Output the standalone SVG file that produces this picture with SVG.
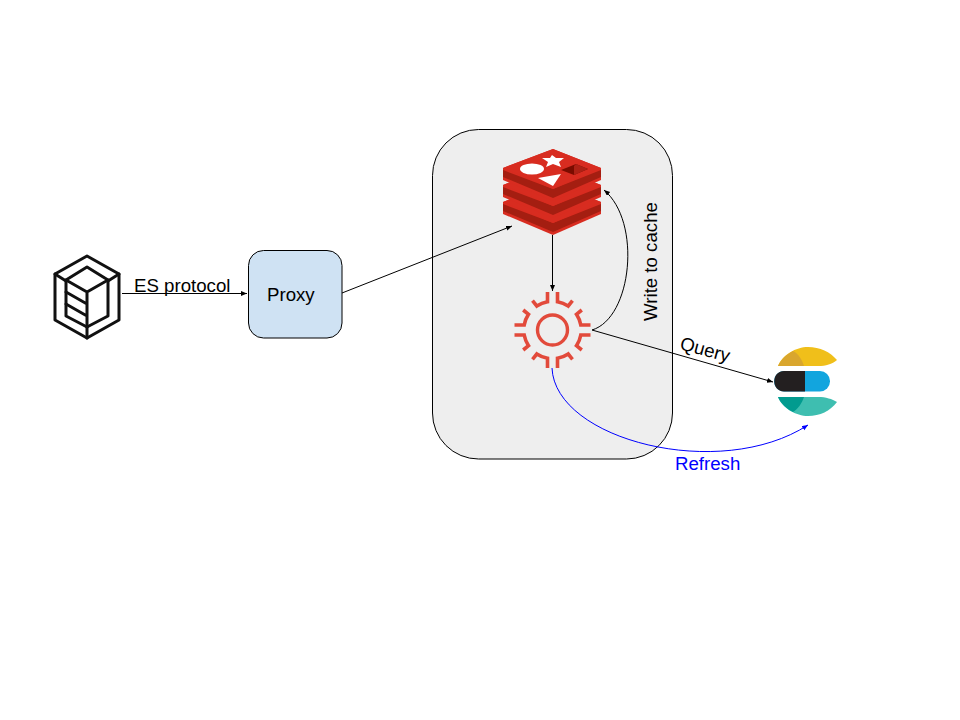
<svg xmlns="http://www.w3.org/2000/svg" width="960" height="720" viewBox="0 0 960 720">
<style>
text{font-family:"Liberation Sans",Arial,sans-serif;font-size:18.67px;fill:#000}
.c{fill:none;stroke:#000;stroke-width:1}
.i{fill:none;stroke:#111;stroke-width:3;stroke-linejoin:round;stroke-linecap:round}
.g{fill:none;stroke:#e24a3b;stroke-width:3.6}
.b{fill:#d82c20}
.d{fill:#a41e11}
</style>
<defs>
<marker id="a" markerWidth="8" markerHeight="6" refX="6" refY="2.500" orient="auto" markerUnits="userSpaceOnUse"><path d="M0 0L6 2.500L0 5z" fill="#000"/></marker>
<marker id="b" markerWidth="8" markerHeight="6" refX="6" refY="2.500" orient="auto" markerUnits="userSpaceOnUse"><path d="M0 0L6 2.500L0 5z" fill="#00f"/></marker>
<g id="seg"><path class="g" d="M5-38V-28.3A28.7 28.7 0 0 1 15.7-24L20-29.3"/><path class="g" d="M38-5H28.3A28.7 28.7 0 0 0 24-15.7L29.3-20"/></g>
<g id="layer"><path class="b" d="M503 168L553 149L601 168V180L553 201L503 180Z"/><path class="d" d="M503 170L553 189L601 170V177L553 198L503 177Z"/><path class="b" d="M503 168L553 149L601 168L553 189Z"/></g>
</defs>
<rect width="960" height="720" fill="#fff"/>
<g id="cache-box"><rect x="432.500" y="129.500" width="240" height="329.500" rx="46" fill="#eeeeee" stroke="#000"/></g>
<g id="client"><path class="i" d="M87 256L119 274V320L87 338L55 320V274Z"/><path class="i" d="M55 274L66 281M119 274L108 281M87 327V338"/><path class="i" d="M87 267L108 280V316L87 327L66 316V280Z"/><path class="i" d="M66 280L87 292L108 280M87 292V327M66 292L87 304M66 304L87 316"/></g>
<g id="proxy"><rect x="248.500" y="250.500" width="93.500" height="87.500" rx="15" fill="#cfe2f3" stroke="#000"/><text x="267" y="301">Proxy</text></g>
<g id="redis">
<use href="#layer" y="34"/><use href="#layer" y="17"/><use href="#layer"/>
<ellipse cx="532" cy="169" rx="12" ry="5.500" fill="#fff"/><path d="M552 155L556 158L564 158L559 162L561 167L553 164L546 167L548 162L542 158L550 158Z" fill="#fff"/><path d="M538 178L561 174L553 186Z" fill="#fff"/><path d="M561 170L576 164L588 169L574 175Z" fill="#7a0c00"/><path d="M576 164L588 169L574 175L574 166Z" fill="#ad2115"/>
</g>
<g id="gear" transform="translate(552.500 330)"><circle r="15" fill="none" stroke="#e24a3b" stroke-width="3.400"/><use href="#seg"/><use href="#seg" transform="rotate(90)"/><use href="#seg" transform="rotate(180)"/><use href="#seg" transform="rotate(270)"/></g>
<g id="elasticsearch">
<path d="M778 366C782 355 796 347 808 347C820 347 830 352 837 360C832 364 826 366 818 366Z" fill="#f0bf1a"/><path d="M778 366C781 359 787 354 793 351C799 354 802 360 804 366Z" fill="#d9a62e"/>
<rect x="774" y="371" width="56" height="20.500" rx="10" fill="#12a5de"/><path d="M784 371H805V391.500H784C771 391.500 771 371 784 371Z" fill="#231f20"/>
<path d="M778 397H818C826 397 832 399 837 402C830 411 820 416 808 416C796 416 782 408 778 397Z" fill="#3ebeb0"/><path d="M778 397H804C802 403 798 409 793 412C787 409 781 404 778 397Z" fill="#019b8f"/>
</g>
<g id="connectors">
<path class="c" d="M122 293.500H247" marker-end="url(#a)"/>
<path class="c" d="M342 293L512 226" marker-end="url(#a)"/>
<path class="c" d="M552.500 235V291" marker-end="url(#a)"/>
<path class="c" d="M592 330C632 318 642 222 604 190" marker-end="url(#a)"/>
<path class="c" d="M592 330L773 382" marker-end="url(#a)"/>
<path d="M552 368C555 440 720 482 808 425" fill="none" stroke="#00f" marker-end="url(#b)"/>
</g>
<g id="labels">
<text x="134" y="292">ES protocol</text>
<text transform="translate(656.500 321) rotate(-90)">Write to cache</text>
<text transform="translate(679 349) rotate(15)">Query</text>
<text x="675" y="469.500" style="fill:#00f">Refresh</text>
</g>
</svg>
